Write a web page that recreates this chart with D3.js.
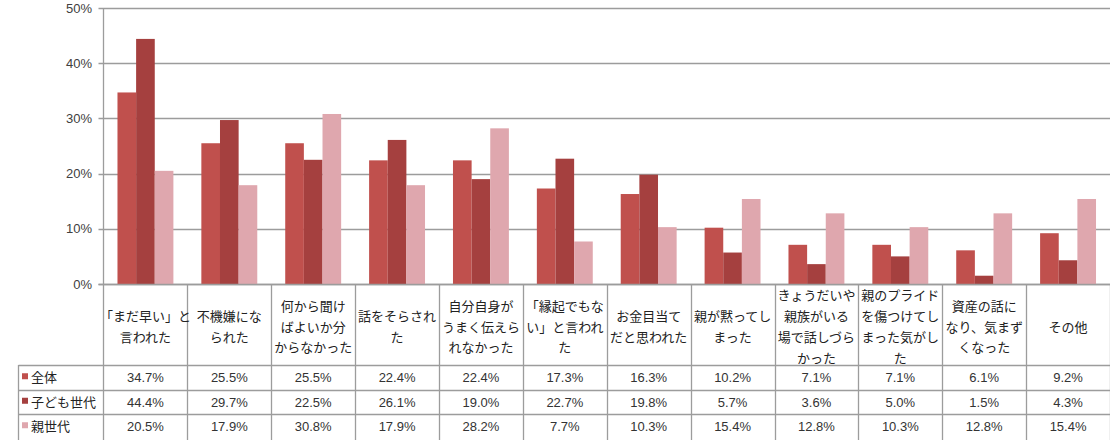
<!DOCTYPE html>
<html><head><meta charset="utf-8">
<script src="https://cdn.jsdelivr.net/npm/d3@7"></script>
<style>
html,body{margin:0;padding:0;background:#fff;}
svg{display:block;}
</style></head>
<body>
<svg id="chart" width="1110" height="440"></svg>
<script>
const categories = [
  "「まだ早い」と|言われた",
  "不機嫌にな|られた",
  "何から聞け|ばよいか分|からなかった",
  "話をそらされ|た",
  "自分自身が|うまく伝えら|れなかった",
  "「縁起でもな|い」と言われ|た",
  "お金目当て|だと思われた",
  "親が黙ってし|まった",
  "きょうだいや|親族がいる|場で話しづら|かった",
  "親のプライド|を傷つけてし|まった気がし|た",
  "資産の話に|なり、気まず|くなった",
  "その他"
];
const seriesNames = ["全体", "子ども世代", "親世代"];
const zentai   = [34.7, 25.5, 25.5, 22.4, 22.4, 17.3, 16.3, 10.2, 7.1, 7.1, 6.1, 9.2];
const kodomo   = [44.4, 29.7, 22.5, 26.1, 19.0, 22.7, 19.8, 5.7, 3.6, 5.0, 1.5, 4.3];
const oya      = [20.5, 17.9, 30.8, 17.9, 28.2, 7.7, 10.3, 15.4, 12.8, 10.3, 12.8, 15.4];
const yTicks = [0, 10, 20, 30, 40, 50];
const colors = ["#c0504d", "#a5403f", "#dfa7ae"];

(function(){
const seriesValues = [zentai, kodomo, oya];
const svg = d3.select("#chart");
const pLeft = 103.5, pRight = 1110, pTop = 8, pBottom = 284;
const tableTop = 365, rowH = 24.5, legendLeft = 18.5;

const x = d3.scaleBand().domain(d3.range(categories.length)).range([pLeft, pRight]);
const bw = x.bandwidth();
const x1 = d3.scaleBand().domain(d3.range(seriesNames.length)).range([bw/6, bw*5/6]);
const y = d3.scaleLinear().domain([0, 50]).range([pBottom, pTop]);

const gridColor = "#9c9c9c";
svg.append("g").selectAll("line").data(yTicks).join("line")
  .attr("x1", pLeft - 5).attr("x2", pRight)
  .attr("y1", d => Math.round(y(d)) + 0.5).attr("y2", d => Math.round(y(d)) + 0.5)
  .attr("stroke", gridColor).attr("stroke-width", 1.3);

svg.append("g").selectAll("text").data(yTicks).join("text")
  .attr("x", 92).attr("y", d => y(d) + 4.5)
  .attr("text-anchor", "end")
  .attr("font-family", "Liberation Sans, Arial, sans-serif")
  .attr("font-size", 13).attr("fill", "#404040")
  .text(d => d + "%");

const groups = svg.append("g").selectAll("g").data(categories).join("g")
  .attr("transform", (d, i) => `translate(${x(i)},0)`);
groups.selectAll("rect").data((d, i) => seriesValues.map((s, j) => ({j, v: s[i]}))).join("rect")
  .attr("x", d => x1(d.j)).attr("width", x1.bandwidth())
  .attr("y", d => y(d.v)).attr("height", d => y(0) - y(d.v))
  .attr("fill", d => colors[d.j]);

const lines = svg.append("g").attr("stroke", gridColor).attr("stroke-width", 1.3);
lines.append("line").attr("x1", pLeft).attr("x2", pLeft).attr("y1", pTop).attr("y2", 440);
lines.append("line").attr("x1", pLeft - 5).attr("x2", pRight).attr("y1", pBottom + 0.5).attr("y2", pBottom + 0.5);
for (let i = 1; i <= categories.length; i++) {
  const xx = Math.round(pLeft + bw * i) + 0.5;
  lines.append("line").attr("x1", xx).attr("x2", xx).attr("y1", pBottom).attr("y2", 440);
}
for (let r = 0; r < 3; r++) {
  const yy = Math.round(tableTop + rowH * r) + 0.5;
  lines.append("line").attr("x1", legendLeft).attr("x2", pRight).attr("y1", yy).attr("y2", yy);
}
lines.append("line").attr("x1", legendLeft).attr("x2", legendLeft).attr("y1", tableTop).attr("y2", 440);

const jp = "'Noto Sans CJK JP', sans-serif";
const lh = 20.8;
categories.forEach((c, i) => {
  const parts = c.split("|");
  const cx = x(i) + bw / 2;
  const cy = 327;
  const t = svg.append("text").attr("text-anchor", "middle")
    .attr("font-family", jp).attr("font-size", 13).attr("fill", "#222");
  parts.forEach((p, k) => {
    t.append("tspan").attr("x", cx)
      .attr("y", cy + (k - (parts.length - 1) / 2) * lh + 4.5)
      .text(p);
  });
});

seriesNames.forEach((name, r) => {
  const cy = tableTop + rowH * r + rowH / 2;
  svg.append("rect").attr("x", 22).attr("y", cy - 4).attr("width", 6).attr("height", 6).attr("fill", colors[r]);
  svg.append("text").attr("x", 31).attr("y", cy + 5)
    .attr("font-family", jp).attr("font-size", 13).attr("fill", "#222").text(name);
  svg.append("g").selectAll("text").data(seriesValues[r]).join("text")
    .attr("x", (d, i) => x(i) + bw / 2).attr("y", cy + 5)
    .attr("text-anchor", "middle")
    .attr("font-family", "Liberation Sans, Arial, sans-serif")
    .attr("font-size", 13).attr("fill", "#333")
    .text(d => d.toFixed(1) + "%");
});
})();
</script>
</body></html>
